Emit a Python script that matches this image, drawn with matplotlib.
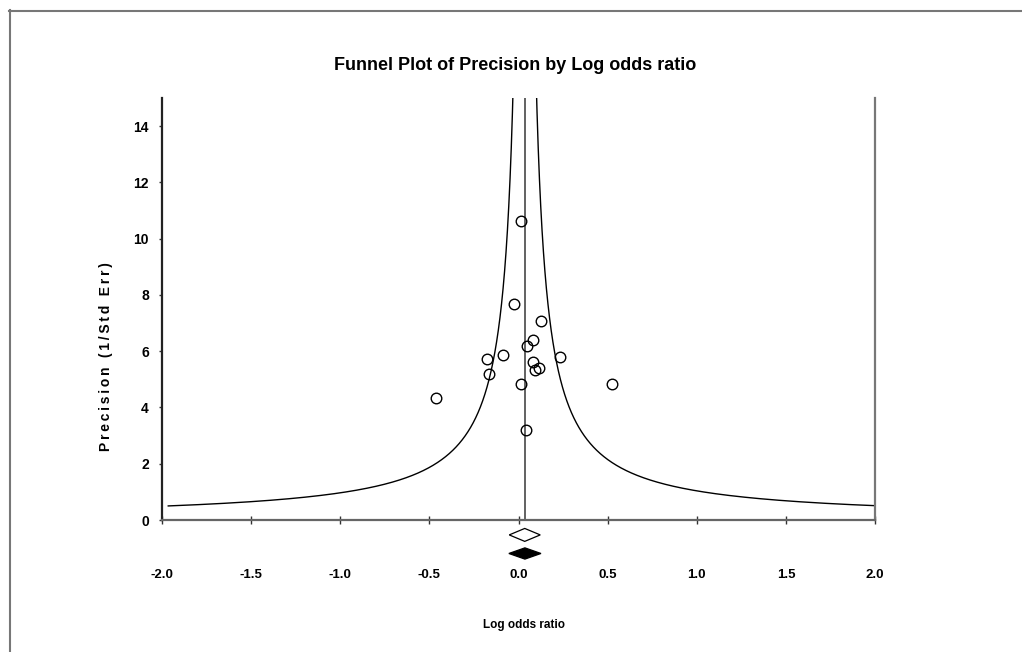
import matplotlib
matplotlib.use("Agg")
import matplotlib.pyplot as plt
from matplotlib import font_manager
from matplotlib.patches import Polygon
from matplotlib.lines import Line2D
import numpy as np

# ---- data ----
log_odds = [0.016, -0.024, 0.126, 0.083, 0.046, -0.087, -0.177, 0.235,
            0.081, 0.093, 0.117, -0.166, 0.016, 0.526, -0.465, 0.044]
precision = [10.64, 7.66, 7.07, 6.39, 6.17, 5.87, 5.74, 5.78,
             5.62, 5.34, 5.39, 5.20, 4.85, 4.84, 4.34, 3.20]
mean_effect = 0.035
ci_observed = (-0.052, 0.122)
ci_imputed = (-0.054, 0.126)
x_ticks = [-2.0, -1.5, -1.0, -0.5, 0.0, 0.5, 1.0, 1.5, 2.0]
y_ticks = [0, 2, 4, 6, 8, 10, 12, 14]

font = ["Liberation Sans", "DejaVu Sans"]

fig = plt.figure(figsize=(10.22, 6.52), dpi=100)
ax = fig.add_axes([162/1022, 1-520/652, (875-162)/1022, (520-98)/652])

# funnel
p = np.linspace(0.5, 16, 2000)
ax.plot(mean_effect - 1/p, p, color="black", lw=1.0)
ax.plot(mean_effect + 1/p, p, color="black", lw=1.0)
ax.plot([mean_effect, mean_effect], [0, 15], color="#555555", lw=1.3)

# studies
ax.plot(log_odds, precision, linestyle="none", marker="o", ms=7.6,
        mfc="none", mec="black", mew=1.0)

ax.set_xlim(-2.0, 2.0)
ax.set_ylim(0, 15)

# diamonds below axis
def diamond(lo, hi, yc, h, filled):
    mid = (lo + hi) / 2
    pts = [(lo, yc), (mid, yc + h/2), (hi, yc), (mid, yc - h/2)]
    poly = Polygon(pts, closed=True, facecolor="black" if filled else "white",
                   edgecolor="black", lw=0.9, clip_on=False)
    ax.add_patch(poly)

diamond(ci_observed[0], ci_observed[1], -0.53, 0.46, False)
diamond(ci_imputed[0], ci_imputed[1], -1.19, 0.40, True)

ax.spines["top"].set_visible(False)
for s in ["left", "bottom", "right"]:
    ax.spines[s].set_linewidth(1.6)
ax.spines["left"].set_color("#222222")
ax.spines["bottom"].set_color("#666666")
ax.spines["right"].set_color("#777777")

ax.set_xticks(x_ticks)
ax.set_xticklabels([f"{v:.1f}" for v in x_ticks], family=font,
                   fontweight="bold", fontsize=9.5)
ax.set_yticks(y_ticks)
ax.set_yticklabels([str(v) for v in y_ticks], family=font,
                   fontweight="bold", fontsize=10)
ax.tick_params(axis="x", direction="inout", length=6, width=1, pad=32, color="#333333")
ax.tick_params(axis="y", direction="out", length=2.5, width=1, pad=7, color="#333333")

fig.text(515/1022, 1-66/652, "Funnel Plot of Precision by Log odds ratio",
         ha="center", va="center", family=font, fontweight="bold", fontsize=13)
ylab = "\u2009".join("Precision (1/Std Err)")
fig.text(106/1022, 1-357/652, ylab, rotation=90,
         ha="center", va="center", family=font, fontweight="bold", fontsize=10)
fig.text(524/1022, 1-625/652, "Log odds ratio", ha="center", va="center",
         family=font, fontweight="bold", fontsize=8.5)

# figure border (top and left only)
fig.add_artist(Line2D([9/1022, 1], [1-10.5/652, 1-10.5/652], color="#777777", lw=1.5))
fig.add_artist(Line2D([9.5/1022, 9.5/1022], [0, 1-10/652], color="#777777", lw=1.5))

fig.savefig("out.png", dpi=100)
